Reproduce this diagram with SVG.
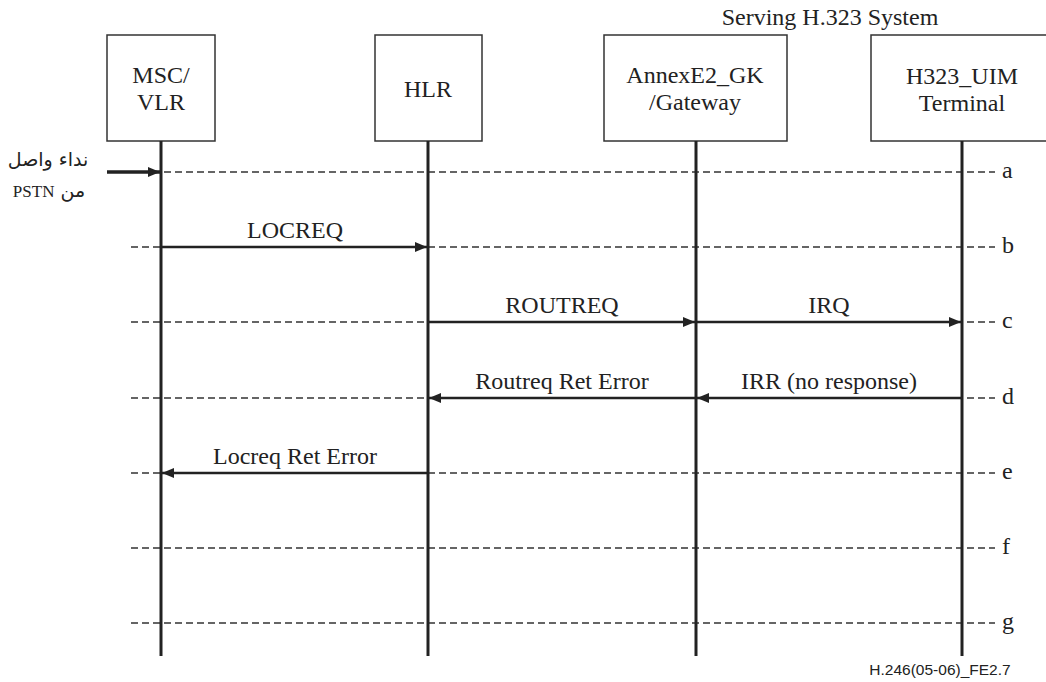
<svg xmlns="http://www.w3.org/2000/svg" width="1046" height="682" viewBox="0 0 1046 682">
<style>
.box{fill:#fff;stroke:#333;stroke-width:1.5}
.lbl{font-family:"Liberation Serif","Times New Roman",serif;font-size:24px;fill:#222;text-anchor:middle}
.life{stroke:#222;stroke-width:3}
.dash{stroke:#333;stroke-width:1.5;stroke-dasharray:7 4}
.msg{stroke:#222;stroke-width:2.5;fill:none;marker-end:url(#ah)}
.let{font-family:"Liberation Serif","Times New Roman",serif;font-size:24px;fill:#222}
.ar{font-family:"DejaVu Sans",sans-serif;font-size:19px;fill:#222}
.pstn{font-family:"Liberation Serif","Times New Roman",serif;font-size:17px;fill:#222}
</style>
<defs>
<marker id="ah" markerUnits="userSpaceOnUse" markerWidth="12" markerHeight="10" refX="12" refY="5" orient="auto">
<path d="M0,0 L12,5 L0,10 z" fill="#222"/>
</marker>
</defs>
<rect width="1046" height="682" fill="#fff"/>
<text class="lbl" x="830" y="25">Serving H.323 System</text>
<g id="dashed">
<line class="dash" x1="131" y1="172" x2="995" y2="172"/>
<line class="dash" x1="131" y1="247" x2="995" y2="247"/>
<line class="dash" x1="131" y1="322" x2="995" y2="322"/>
<line class="dash" x1="131" y1="398" x2="995" y2="398"/>
<line class="dash" x1="131" y1="473" x2="995" y2="473"/>
<line class="dash" x1="131" y1="548" x2="995" y2="548"/>
<line class="dash" x1="131" y1="623" x2="995" y2="623"/>
<text class="let" x="1002" y="178">a</text>
<text class="let" x="1002" y="253">b</text>
<text class="let" x="1002" y="328">c</text>
<text class="let" x="1002" y="404">d</text>
<text class="let" x="1002" y="479">e</text>
<text class="let" x="1002" y="554">f</text>
<text class="let" x="1002" y="629">g</text>
</g>
<g id="msc">
<rect class="box" x="107" y="35" width="108" height="106"/>
<text class="lbl" x="161" y="83">MSC/</text>
<text class="lbl" x="161" y="110">VLR</text>
<line class="life" x1="161" y1="141" x2="161" y2="656"/>
</g>
<g id="hlr">
<rect class="box" x="375" y="35" width="107" height="106"/>
<text class="lbl" x="428" y="97">HLR</text>
<line class="life" x1="428" y1="141" x2="428" y2="656"/>
</g>
<g id="gk">
<rect class="box" x="604" y="35" width="183" height="106"/>
<text class="lbl" x="695" y="83">AnnexE2_GK</text>
<text class="lbl" x="695" y="110">/Gateway</text>
<line class="life" x1="696" y1="141" x2="696" y2="656"/>
</g>
<g id="terminal">
<rect class="box" x="871" y="35" width="185" height="106"/>
<text class="lbl" x="962" y="84">H323_UIM</text>
<text class="lbl" x="962" y="111">Terminal</text>
<line class="life" x1="962" y1="141" x2="962" y2="656"/>
</g>
<g id="connectors">
<line class="msg" x1="107" y1="172" x2="160" y2="172" style="stroke-width:3.5"/>
<line class="msg" x1="162" y1="247" x2="427" y2="247"/>
<line class="msg" x1="429" y1="322" x2="695" y2="322"/>
<line class="msg" x1="697" y1="322" x2="961" y2="322"/>
<line class="msg" x1="695" y1="398" x2="429" y2="398"/>
<line class="msg" x1="961" y1="398" x2="697" y2="398"/>
<line class="msg" x1="427" y1="473" x2="162" y2="473"/>
<text class="lbl" x="295" y="238">LOCREQ</text>
<text class="lbl" x="562" y="313">ROUTREQ</text>
<text class="lbl" x="829" y="313">IRQ</text>
<text class="lbl" x="562" y="389">Routreq Ret Error</text>
<text class="lbl" x="829" y="389">IRR (no response)</text>
<text class="lbl" x="295" y="464">Locreq Ret Error</text>
</g>
<g id="caller">
<text class="ar" x="48" y="166" direction="rtl" text-anchor="middle">نداء واصل</text>
<text x="49" y="197" direction="rtl" text-anchor="middle"><tspan class="ar">من </tspan><tspan class="pstn">PSTN</tspan></text>
</g>
<text x="940" y="675" font-family="Liberation Sans, Arial, sans-serif" font-size="15.5" fill="#222" text-anchor="middle">H.246(05-06)_FE2.7</text>
</svg>
